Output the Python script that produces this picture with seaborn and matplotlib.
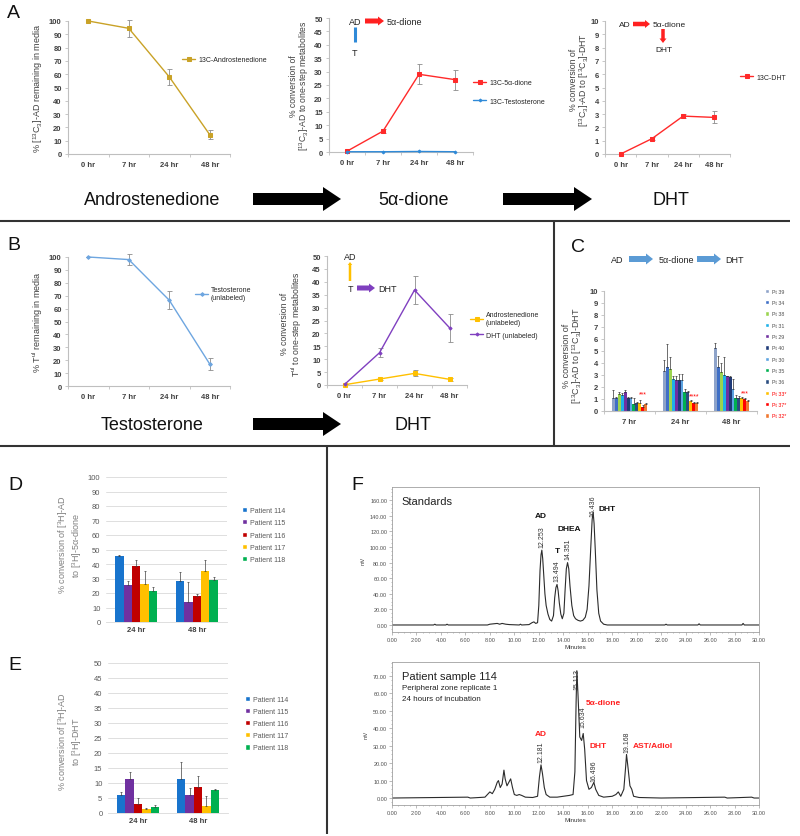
import numpy as np
import pandas as pd
import matplotlib
matplotlib.use("Agg")
import matplotlib.pyplot as plt
import seaborn as sns
from matplotlib.patches import FancyArrow, Patch
from matplotlib.container import BarContainer
from matplotlib.ticker import MultipleLocator, AutoMinorLocator, FormatStrFormatter

sns.set_style("white")
plt.rcParams["font.family"] = ["Liberation Sans", "DejaVu Sans"]
plt.rcParams["mathtext.fontset"] = "custom"
plt.rcParams["mathtext.rm"] = "Liberation Sans"
plt.rcParams["mathtext.it"] = "Liberation Sans:italic"
plt.rcParams["mathtext.bf"] = "Liberation Sans:bold"

# ---------------- data ----------------
times4 = ["0 hr", "7 hr", "24 hr", "48 hr"]

a1_ad = [100, 94.5, 58, 14.5]
a1_ad_err = [0, 6.5, 6, 3.5]

a2_dione = [0.3, 7.8, 29.0, 27.0]
a2_dione_err = [0, 0.7, 3.8, 3.7]
a2_t = [0.1, 0.1, 0.2, 0.1]
a2_t_err = [0, 0, 0, 0]

a3_dht = [0.0, 1.15, 2.85, 2.75]
a3_dht_err = [0, 0.1, 0.15, 0.45]

b1_t = [100, 98, 66.5, 17]
b1_t_err = [0, 4, 7, 4.5]

b2_ad = [0.1, 2.3, 4.5, 2.2]
b2_ad_err = [0, 0.3, 1.2, 0.5]
b2_dht = [0.2, 12.5, 36.8, 22.2]
b2_dht_err = [0, 1.8, 5.3, 5.5]

c_times = ["7 hr", "24 hr", "48 hr"]
c_patients = ["Pt 39", "Pt 34", "Pt 38", "Pt 31", "Pt 29", "Pt 40",
              "Pt 30", "Pt 35", "Pt 36", "Pt 33*", "Pt 37*", "Pt 32*"]
c_colors = ["#8EA3C9", "#3F6FC6", "#9BD450", "#1FB0E8", "#7030A0", "#1F3A78",
            "#5BA3E0", "#00B050", "#2A4D80", "#FFC000", "#FF0000", "#F07830"]
c_7hr = [1.1, 1.1, 1.45, 1.35, 1.55, 1.05, 1.05, 0.6, 0.65, 0.7, 0.35, 0.6]
c_7hr_err = [0.65, 0.1, 0.15, 0.15, 0.2, 0.1, 0.1, 0.45, 0.1, 0.25, 0.15, 0.1]
c_24hr = [3.35, 3.7, 3.5, 2.65, 2.55, 2.6, 2.6, 1.6, 1.55, 0.85, 0.7, 0.7]
c_24hr_err = [0.9, 1.9, 1.0, 0.3, 0.4, 0.45, 0.5, 0.2, 0.15, 0.1, 0.05, 0.05]
c_48hr = [5.25, 3.7, 3.25, 3.0, 2.9, 2.85, 1.8, 1.1, 1.1, 1.05, 1.0, 0.85]
c_48hr_err = [0.4, 0.9, 0.75, 1.5, 0.05, 0.05, 0.9, 0.2, 0.15, 0.15, 0.1, 0.1]

de_times = ["24 hr", "48 hr"]
de_patients = ["Patient 114", "Patient 115", "Patient 116", "Patient 117", "Patient 118"]
de_colors = ["#1874CD", "#7030A0", "#C00000", "#FFC000", "#00B050"]
d_24 = [45.3, 25.2, 38.8, 26.0, 21.3]
d_24_err = [0.8, 3.0, 4.2, 9.2, 2.8]
d_48 = [28.6, 13.5, 18.0, 35.0, 29.3]
d_48_err = [6.0, 14.0, 1.5, 8.0, 2.0]
e_24 = [6.0, 11.3, 3.0, 1.2, 2.0]
e_24_err = [0.9, 2.4, 2.0, 0.5, 0.6]
e_48 = [11.2, 6.0, 8.8, 2.3, 7.8]
e_48_err = [5.8, 2.5, 3.5, 3.5, 0.3]

# chromatograms (minutes, mV)
f1_points = [(0, 0), (3.4, 0), (3.5, 1), (3.6, 0), (4.4, 0), (4.5, 1), (4.6, 0),
             (7.8, 0), (8.0, 1), (8.3, 1.5), (8.6, 2), (8.8, 1), (9.0, 2), (9.3, 1),
             (9.6, 0.5), (10.4, 0), (10.5, 1), (10.6, 0), (11.2, 0.5), (11.45, 3),
             (11.6, 4), (11.75, 2), (11.9, 3), (12.0, 25), (12.1, 70), (12.18, 90),
             (12.25, 96), (12.32, 85), (12.4, 65), (12.5, 40), (12.6, 25), (12.75, 14),
             (12.9, 7), (13.05, 5), (13.2, 12), (13.3, 35), (13.4, 48), (13.49, 52),
             (13.58, 44), (13.68, 28), (13.8, 14), (13.92, 8), (14.05, 15), (14.15, 45),
             (14.25, 72), (14.35, 80), (14.45, 72), (14.55, 50), (14.7, 25), (14.85, 12),
             (15.0, 8), (15.2, 6), (15.4, 5), (15.6, 6), (15.8, 10), (15.95, 20),
             (16.1, 50), (16.25, 100), (16.36, 135), (16.44, 145), (16.52, 130),
             (16.62, 95), (16.75, 45), (16.9, 15), (17.05, 5), (17.3, 1), (17.6, 0),
             (22.3, 0), (22.4, 1), (22.5, 0), (25.0, 0), (25.1, 1.5), (25.2, 0),
             (28.6, 0), (28.7, 2), (28.8, 0), (30.0, 0)]
f1_rt_labels = [(12.25, 100, "12.253"), (13.49, 56, "13.494"),
                (14.35, 85, "14.351"), (16.44, 140, "16.436")]
f1_names = [(12.2, 140, "AD"), (13.5, 95, "T"), (14.45, 124, "DHEA"), (17.6, 149, "DHT")]

f2_points = [(0, 0), (6.2, 0.5), (6.4, 0), (7.6, 0.5), (7.8, 2), (8.0, 3.5), (8.2, 2.5),
             (8.4, 5), (8.6, 9), (8.7, 10), (8.85, 6), (9.0, 8), (9.15, 16), (9.25, 11),
             (9.4, 7), (9.55, 9), (9.7, 11), (9.85, 6), (10.0, 2), (10.2, 1.5),
             (10.4, 2), (10.6, 1.5), (10.9, 0.5), (11.5, 0.3), (11.9, 1), (12.05, 12),
             (12.18, 19), (12.3, 14), (12.45, 6), (12.6, 2), (12.9, 0.5), (13.5, 0.5),
             (14.0, 1), (14.5, 1.5), (14.8, 2), (14.95, 15), (15.05, 55), (15.11, 73),
             (15.2, 60), (15.35, 35), (15.5, 33), (15.63, 37), (15.75, 28), (15.9, 10),
             (16.1, 5), (16.3, 6), (16.5, 9), (16.65, 5), (16.9, 1.5), (17.3, 0.5),
             (18.0, 1), (18.3, 2), (18.5, 3.5), (18.7, 1), (18.95, 5), (19.1, 18),
             (19.17, 25), (19.3, 17), (19.45, 7), (19.6, 5), (19.75, 1), (20.2, 0.3),
             (22.0, 0), (27.2, 0.5), (27.4, 0), (29.4, 0.5), (29.6, 0), (30.0, 0)]
f2_rt_labels = [(12.18, 20.7, "12.181"), (15.11, 62.6, "15.113"), (15.63, 41, "15.634"),
                (16.5, 9.8, "16.496"), (19.17, 26.4, "19.168")]
f2_names = [(12.2, 36.8, "AD"), (17.3, 55, "5α-dione"), (16.85, 30, "DHT"),
            (21.3, 30, "AST/Adiol")]

# ---------------- layout helpers ----------------
W, H = 800, 837
fig = plt.figure(figsize=(8, 8.37), dpi=100)
fig.patch.set_facecolor("white")


def add_ax(rect):
    l, t, r, b = rect
    return fig.add_axes([l / W, 1 - b / H, (r - l) / W, (b - t) / H])


def ylab(ax, rect, text, xc, yc, fs, color="#404040", ls=1.1):
    l, t, r, b = rect
    ax.set_ylabel(text, fontsize=fs, color=color, linespacing=ls)
    ax.yaxis.set_label_coords((xc - l) / (r - l), (b - yc) / (b - t))
    ax.yaxis.label.set_verticalalignment("center")
    ax.yaxis.label.set_horizontalalignment("center")


def place_legend(ax, handles, labels, x_px, yc_px, fs, ls, hl=1.9, hh=0.7, tp=0.4):
    return ax.legend(handles, labels, loc="center left",
                     bbox_to_anchor=(x_px / W, 1 - yc_px / H),
                     bbox_transform=fig.transFigure, frameon=False, fontsize=fs,
                     labelspacing=ls, borderpad=0, borderaxespad=0,
                     handletextpad=tp, handlelength=hl, handleheight=hh)


def style_cat(ax, cats, ymax, ystep, fs=5.5):
    n = len(cats)
    ax.set_xlim(-0.5, n - 0.5)
    ax.set_ylim(0, ymax)
    ax.set_yticks(np.arange(0, ymax + ystep / 2, ystep))
    ax.set_xticks(np.arange(n))
    ax.set_xticklabels(cats)
    ax.set_xticks(np.arange(-0.5, n, 1), minor=True)
    for s in ["top", "right"]:
        ax.spines[s].set_visible(False)
    for s in ["left", "bottom"]:
        ax.spines[s].set_color("#BFBFBF")
        ax.spines[s].set_linewidth(0.8)
    ax.tick_params(axis="y", which="major", left=True, length=2.5, width=0.6,
                   color="#BFBFBF", pad=2, labelsize=fs, labelcolor="#404040")
    ax.tick_params(axis="x", which="major", bottom=False, length=0, pad=5,
                   labelsize=fs, labelcolor="#404040")
    ax.tick_params(axis="x", which="minor", bottom=True, length=2.5, width=0.6,
                   color="#BFBFBF")
    for lab in ax.get_xticklabels() + ax.get_yticklabels():
        lab.set_fontweight("bold")
    ax.set_xlabel("")


def line_panel(rect, series, ymax, ystep):
    ax = add_ax(rect)
    xpos = np.arange(len(times4))
    for s in series:
        ax.errorbar(xpos, s["y"], yerr=s["err"], fmt="none", ecolor="#8C8C8C",
                    elinewidth=0.6, capsize=1.8, capthick=0.6, zorder=2, clip_on=False)
        sns.lineplot(x=xpos, y=s["y"], color=s["color"], marker=s["marker"],
                     markersize=s["ms"], markeredgecolor=s["color"], linewidth=1.0,
                     errorbar=None, ax=ax, zorder=3, label=s["label"], clip_on=False)
    style_cat(ax, times4, ymax, ystep)
    return ax


# ---------------- Panel A ----------------
rA1 = (68, 22, 230, 155)
axA1 = line_panel(rA1, [dict(y=a1_ad, err=a1_ad_err, color="#C9A227", marker="s", ms=2.4,
                             label="13C-Androstenedione")], 100, 10)
ylab(axA1, rA1, "% [$^{13}$C$_3$]-AD remaining in media", 38, 88, 6.5)
h, l = axA1.get_legend_handles_labels()
place_legend(axA1, h, l, 182, 61, 5, 0.5)

rA2 = (329, 19, 473, 153)
axA2 = line_panel(rA2, [dict(y=a2_dione, err=a2_dione_err, color="#FF2A2A", marker="s", ms=2.4,
                             label="13C-5α-dione"),
                        dict(y=a2_t, err=a2_t_err, color="#2F8AD8", marker="D", ms=1.5,
                             label="13C-Testosterone")], 50, 5)
ylab(axA2, rA2, "% conversion of\n[$^{13}$C$_3$]-AD to one-step metabolites", 300, 86, 6.2, ls=1.0)
h, l = axA2.get_legend_handles_labels()
place_legend(axA2, h, l, 473, 93, 5, 1.7)

rA3 = (605, 22, 730, 155)
axA3 = line_panel(rA3, [dict(y=a3_dht, err=a3_dht_err, color="#FF2A2A", marker="s", ms=2.2,
                             label="13C-DHT")], 10, 1)
ylab(axA3, rA3, "% conversion of\n[$^{13}$C$_3$]-AD to [$^{13}$C$_3$]-DHT", 580, 80, 6.3, ls=1.0)
h, l = axA3.get_legend_handles_labels()
place_legend(axA3, h, l, 740, 78, 5, 0.5)

# ---------------- Panel B ----------------
rB1 = (68, 258, 230, 387)
axB1 = line_panel(rB1, [dict(y=b1_t, err=b1_t_err, color="#6EA6E0", marker="D", ms=1.9,
                             label="Testosterone\n(unlabeled)")], 100, 10)
ylab(axB1, rB1, "% T$^{\\mathrm{ul}}$ remaining in media", 38, 322, 6.5)
h, l = axB1.get_legend_handles_labels()
place_legend(axB1, h, l, 195, 295, 5, 0.5)

rB2 = (327, 257, 467, 386)
axB2 = line_panel(rB2, [dict(y=b2_ad, err=b2_ad_err, color="#FFC000", marker="s", ms=2.2,
                             label="Androstenedione\n(unlabeled)"),
                        dict(y=b2_dht, err=b2_dht_err, color="#8040C0", marker="D", ms=1.6,
                             label="DHT (unlabeled)")], 50, 5)
ylab(axB2, rB2, "% conversion of\nT$^{\\mathrm{ul}}$ to one-step metabolites", 292, 324, 6.3, ls=1.0)
h, l = axB2.get_legend_handles_labels()
place_legend(axB2, h, l, 470, 326, 5, 0.8)

# ---------------- Panel C ----------------
rC = (604, 292, 757, 412)
axC = add_ax(rC)
c_rows = []
for t, vals, errs in zip(c_times, [c_7hr, c_24hr, c_48hr], [c_7hr_err, c_24hr_err, c_48hr_err]):
    for p, v, e in zip(c_patients, vals, errs):
        c_rows.append(dict(time=t, patient=p, value=v, err=e))
dfc = pd.DataFrame(c_rows)
sns.barplot(data=dfc, x="time", y="value", hue="patient", order=c_times,
            hue_order=c_patients, palette=c_colors, width=0.7, errorbar=None,
            saturation=1, legend=False, ax=axC, linewidth=0)
bars = [c for c in axC.containers if isinstance(c, BarContainer)]
for i, cont in enumerate(bars):
    for j, bar in enumerate(cont):
        err = dfc[(dfc.patient == c_patients[i]) & (dfc.time == c_times[j])]["err"].iloc[0]
        axC.errorbar(bar.get_x() + bar.get_width() / 2, bar.get_height(),
                     yerr=[[0], [err]], fmt="none", ecolor="#333333", elinewidth=0.5,
                     capsize=1.0, capthick=0.5, zorder=3)
style_cat(axC, c_times, 10, 1, fs=5.5)
axC.set_ylabel("")
ylab(axC, rC, "% conversion of\n[$^{13}$C$_3$]-AD to [$^{13}$C$_3$]-DHT", 573, 356, 6.5, ls=1.0)
for xi, yv, s in [(0.27, 1.1, "***"), (1.27, 0.95, "****"), (2.27, 1.2, "***")]:
    axC.text(xi, yv, s, color="red", fontsize=5, ha="center", va="bottom")
legC = place_legend(axC, [Patch(facecolor=c) for c in c_colors], c_patients,
                    765, 354.5, 3.8, 1.2, hl=0.8, hh=0.8, tp=0.5)
for k, txt in enumerate(legC.get_texts()):
    txt.set_color("red" if "*" in c_patients[k] else "#505050")


# ---------------- Panels D, E ----------------
def bar_panel(rect, v24, e24, v48, e48, ymax, ystep, ytext, yc, leg_x, leg_yc):
    ax = add_ax(rect)
    rows = []
    for t, vals, errs in zip(de_times, [v24, v48], [e24, e48]):
        for p, v, e in zip(de_patients, vals, errs):
            rows.append(dict(time=t, patient=p, value=v, err=e))
    df = pd.DataFrame(rows)
    sns.barplot(data=df, x="time", y="value", hue="patient", order=de_times,
                hue_order=de_patients, palette=de_colors, width=0.7, errorbar=None,
                saturation=1, legend=False, ax=ax, linewidth=0)
    bl = [c for c in ax.containers if isinstance(c, BarContainer)]
    for i, cont in enumerate(bl):
        for j, bar in enumerate(cont):
            err = df[(df.patient == de_patients[i]) & (df.time == de_times[j])]["err"].iloc[0]
            ax.errorbar(bar.get_x() + bar.get_width() / 2, bar.get_height(),
                        yerr=[[0], [err]], fmt="none", ecolor="#404040", elinewidth=0.5,
                        capsize=1.0, capthick=0.5, zorder=3)
    ax.set_xlim(-0.5, 1.5)
    ax.set_ylim(0, ymax)
    ax.set_yticks(np.arange(0, ymax + ystep / 2, ystep))
    ax.grid(axis="y", color="#D9D9D9", linewidth=0.6)
    ax.set_axisbelow(True)
    for s in ["top", "right", "left"]:
        ax.spines[s].set_visible(False)
    ax.spines["bottom"].set_color("#D9D9D9")
    ax.spines["bottom"].set_linewidth(0.6)
    ax.tick_params(axis="both", length=0, labelsize=5.5)
    ax.tick_params(axis="y", labelcolor="#595959", pad=4)
    ax.tick_params(axis="x", labelcolor="#404040", pad=3)
    for lab in ax.get_xticklabels():
        lab.set_fontweight("bold")
    ax.set_xlabel("")
    ylab(ax, rect, ytext, 70, yc, 6.5, color="#7F7F7F")
    leg = place_legend(ax, [Patch(facecolor=c) for c in de_colors], de_patients,
                       leg_x, leg_yc, 5, 0.75, hl=0.75, hh=0.75, tp=0.4)
    for txt in leg.get_texts():
        txt.set_color("#595959")
    return ax


rD = (106, 478, 227, 623)
bar_panel(rD, d_24, d_24_err, d_48, d_48_err, 100, 10,
          "% conversion of [$^3$H]-AD\nto [$^3$H]-5α-dione", 545, 242, 536)
rE = (108, 664, 228, 814)
bar_panel(rE, e_24, e_24_err, e_48, e_48_err, 50, 5,
          "% conversion of [$^3$H]-AD\nto [$^3$H]-DHT", 742, 245, 724.5)


# ---------------- Panel F ----------------
def chrom(rect, pts, ylim, ystep, ytop):
    ax = add_ax(rect)
    t, v = zip(*pts)
    sns.lineplot(x=list(t), y=list(v), color="#2B2B2B", linewidth=0.8,
                 estimator=None, errorbar=None, sort=False, ax=ax)
    ax.set_xlim(0, 30)
    ax.set_ylim(*ylim)
    ax.set_yticks(np.arange(0, ytop + ystep / 2, ystep))
    ax.yaxis.set_major_formatter(FormatStrFormatter("%.2f"))
    ax.xaxis.set_major_locator(MultipleLocator(2))
    ax.xaxis.set_major_formatter(FormatStrFormatter("%.2f"))
    ax.xaxis.set_minor_locator(AutoMinorLocator(4))
    ax.yaxis.set_minor_locator(AutoMinorLocator(4))
    for s in ax.spines.values():
        s.set_color("#A0A0A0")
        s.set_linewidth(0.6)
    ax.tick_params(which="both", direction="out", left=True, bottom=True,
                   labelsize=4, labelcolor="#505050", color="#A0A0A0", width=0.5, pad=1.5)
    ax.tick_params(which="major", length=2)
    ax.tick_params(which="minor", length=1)
    ax.set_xlabel("Minutes", fontsize=4.5, labelpad=1.5, color="#404040")
    ax.set_ylabel("mV", fontsize=4, labelpad=3, color="#404040")
    return ax


rF1 = (392, 488, 759, 633)
axF1 = chrom(rF1, f1_points, (-9, 177), 20, 160)
axF1.text(0.8, 159, "Standards", fontsize=8, va="center", ha="left", color="#222222")
for x, y, s in f1_rt_labels:
    axF1.text(x, y, s, rotation=90, fontsize=5, ha="center", va="bottom", color="#333333")
for x, y, s in f1_names:
    axF1.text(x, y, s, fontsize=6, fontweight="bold", ha="center", va="center", color="#111111")

rF2 = (392, 663, 759, 806)
axF2 = chrom(rF2, f2_points, (-4, 78), 10, 70)
axF2.text(0.8, 70, "Patient sample 114", fontsize=8, va="center", ha="left", color="#222222")
axF2.text(0.8, 63.2, "Peripheral zone replicate 1", fontsize=5.8, va="center", ha="left", color="#222222")
axF2.text(0.8, 56.9, "24 hours of incubation", fontsize=5.8, va="center", ha="left", color="#222222")
for x, y, s in f2_rt_labels:
    axF2.text(x, y, s, rotation=90, fontsize=5, ha="center", va="bottom", color="#333333")
for x, y, s in f2_names:
    axF2.text(x, y, s, fontsize=6, fontweight="bold", ha="center", va="center", color="#FF2020")

# ---------------- overlay: separators, panel letters, pathway arrows ----------------
ov = fig.add_axes([0, 0, 1, 1])
ov.set_xlim(0, W)
ov.set_ylim(H, 0)
ov.set_axis_off()

sep = dict(color="#333333", linewidth=1.5, solid_capstyle="butt", clip_on=False)
ov.plot([0, 790], [222, 222], **sep)
ov.plot([0, 790], [447, 447], **sep)
ov.plot([554, 554], [222, 447], **sep)
ov.plot([327, 327], [447, 835], **sep)

for x, y, s in [(7, 5, "A"), (7, 237, "B"), (571, 239, "C"), (8, 477, "D"),
                (8, 657, "E"), (351, 477, "F")]:
    ov.text(x, y, s, fontsize=14, ha="left", va="top", color="#111111")


def arrow(x0, y0, x1, y1, w, hw, hl, color):
    ov.add_patch(FancyArrow(x0, y0, x1 - x0, y1 - y0, width=w, head_width=hw,
                            head_length=hl, length_includes_head=True, color=color, lw=0))


# big pathway arrows and compound names
for y, left_name in [(200, "Androstenedione"), (425, "Testosterone")]:
    ov.text(152, y, left_name, fontsize=13, ha="center", va="center", color="#111111")
    arrow(253, y, 341, y, 12, 24, 18, "black")
ov.text(414, 200, "5α-dione", fontsize=13, ha="center", va="center", color="#111111")
arrow(503, 200, 592, 200, 12, 24, 18, "black")
ov.text(671, 200, "DHT", fontsize=13, ha="center", va="center", color="#111111")
ov.text(413, 425, "DHT", fontsize=13, ha="center", va="center", color="#111111")

# A2 inset
ov.text(355, 22, "AD", fontsize=6.5, ha="center", va="center", color="#222222")
arrow(365, 22, 384, 22, 5, 9, 6, "#FF2020")
ov.text(387, 22, "5α-dione", fontsize=6.5, ha="left", va="center", color="#222222")
ov.plot([355, 355], [28, 43], color="#2F8AD8", linewidth=2.2, solid_capstyle="butt")
ov.text(355, 53, "T", fontsize=6.5, ha="center", va="center", color="#222222")

# A3 inset
ov.text(625, 25, "AD", fontsize=6, ha="center", va="center", color="#222222")
arrow(633, 25, 650, 25, 4.5, 8, 5, "#FF2020")
ov.text(653, 25, "5α-dione", fontsize=6, ha="left", va="center", color="#222222")
arrow(663, 30, 663, 44, 3.5, 7, 4.5, "#FF2020")
ov.text(664, 50, "DHT", fontsize=6, ha="center", va="center", color="#222222")

# B2 inset
ov.text(350, 257, "AD", fontsize=6.5, ha="center", va="center", color="#222222")
arrow(350, 282, 350, 263, 2.5, 4.5, 3, "#FFC000")
ov.text(350, 289, "T", fontsize=6.5, ha="center", va="center", color="#222222")
arrow(357, 289, 375, 289, 5, 9, 6, "#7F3FBF")
ov.text(378, 289, "DHT", fontsize=6.5, ha="left", va="center", color="#222222")

# C inset
ov.text(617, 260, "AD", fontsize=6.5, ha="center", va="center", color="#222222")
arrow(629, 260, 653, 260, 6, 11, 7, "#5B9BD5")
ov.text(676, 260, "5α-dione", fontsize=6.5, ha="center", va="center", color="#222222")
arrow(697, 260, 721, 260, 6, 11, 7, "#5B9BD5")
ov.text(734, 260, "DHT", fontsize=6.5, ha="center", va="center", color="#222222")

fig.savefig("out.png", dpi=100)
